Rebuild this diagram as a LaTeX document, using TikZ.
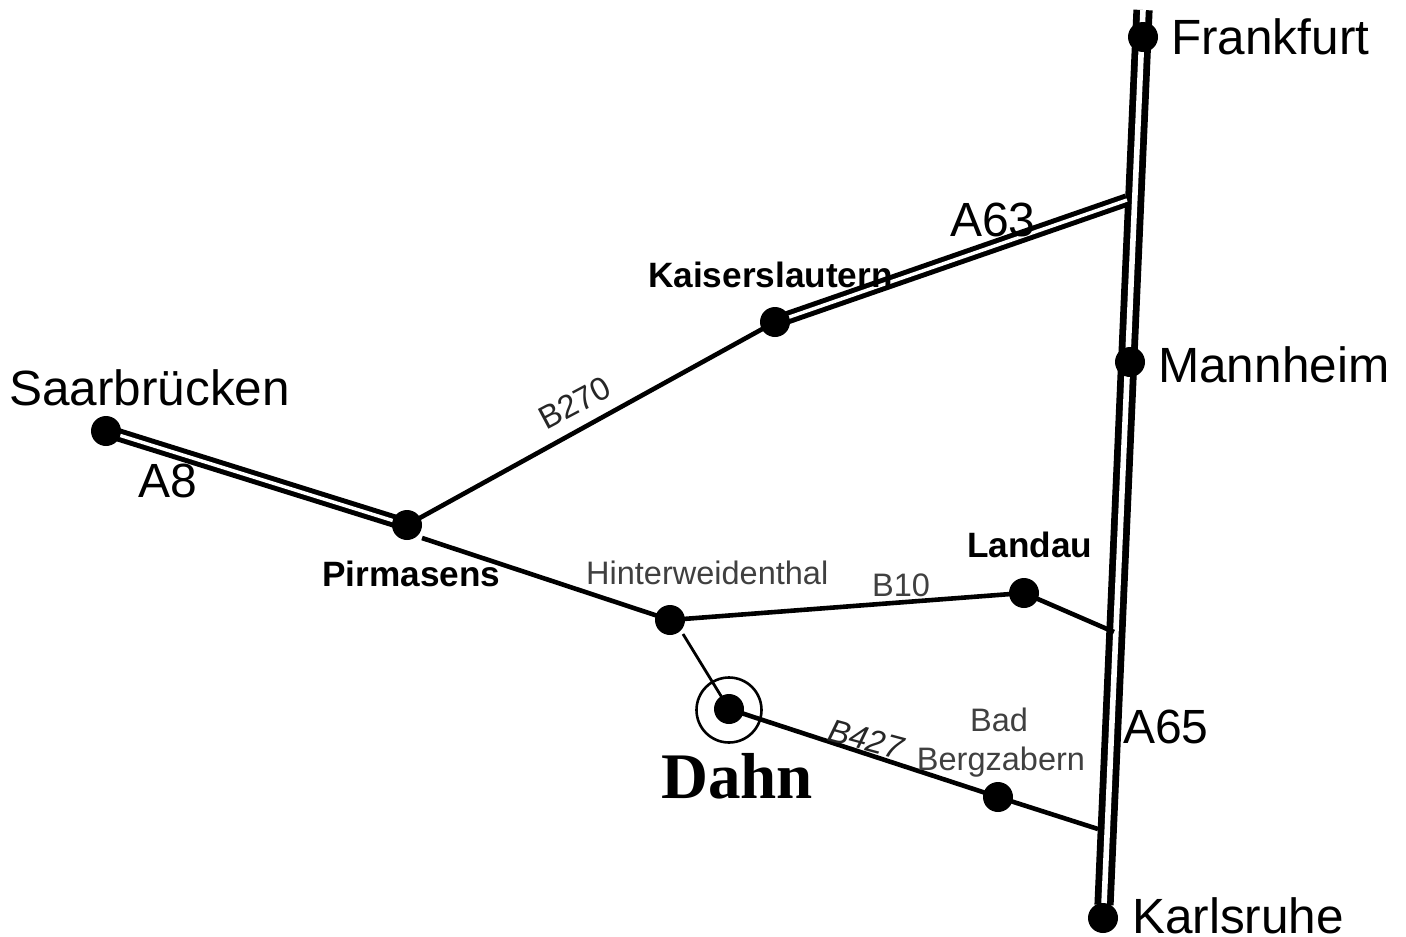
\documentclass[tikz,border=0pt]{standalone}
\usepackage{fontspec}
\setmainfont{Liberation Sans}
\newfontfamily\serifbold{Liberation Serif}
\definecolor{labelgrey}{gray}{0.25}
\tikzset{
  dot/.style={circle,fill=black,draw=none,inner sep=0pt,minimum size=30pt},
  motorway/.style={draw=black,double=white,line width=6.8pt,double distance=5.6pt},
  motorwaythin/.style={draw=black,double=white,line width=5pt,double distance=3.4pt},
  road/.style={draw=black,line width=4.6pt},
  lane/.style={draw=black,line width=2.8pt},
  city/.style={inner sep=0pt,font=\fontsize{49.5}{49.5}\selectfont},
  motor/.style={inner sep=0pt,font=\fontsize{48}{48}\selectfont},
  town/.style={inner sep=0pt,font=\fontsize{35.2}{35.2}\selectfont\bfseries},
  small/.style={inner sep=0pt,text=labelgrey,font=\fontsize{32.5}{39}\selectfont},
  roadno/.style={inner sep=0pt,text=black!85,font=\fontsize{32.5}{39}\selectfont},
}
\begin{document}
\begin{tikzpicture}[x=1pt,y=-1pt]
\useasboundingbox (0,0) rectangle (1406,937);
\fill[white] (0,0) rectangle (1406,937);
% junction coordinates
\coordinate (top) at (1143,10);
\coordinate (bottom) at (1104,905);
\coordinate (a63end) at (1127,200);
\coordinate (landauj) at (1114,632);
\coordinate (bergj) at (1098,829);
\coordinate (pirmout) at (422,538);
\coordinate (hintout) at (683,634);
% places (fixed positions, drawn over the roads below)
\coordinate (pfrank) at (1143,37);
\coordinate (pmann) at (1130,362);
\coordinate (pkarl) at (1103,918);
\coordinate (pkais) at (775,322);
\coordinate (psaar) at (106,431);
\coordinate (ppirm) at (407,525);
\coordinate (phint) at (670,620);
\coordinate (pland) at (1024,593);
\coordinate (pberg) at (998,797);
\coordinate (pdahn) at (729,709);
% roads
\draw[motorway] (top) -- (bottom);
\draw[motorwaythin] (a63end) -- (pkais);
\draw[motorwaythin] (psaar) -- (ppirm);
\draw[road] (ppirm) -- (pkais);
\draw[road] (pirmout) -- (phint);
\draw[road] (phint) -- (pland);
\draw[road] (pland) -- (landauj);
\draw[lane] (hintout) -- (pdahn);
\draw[road] (pdahn) -- (pberg);
\draw[road] (pberg) -- (bergj);
\node[circle,draw=black,line width=2.6pt,inner sep=0pt,minimum size=65pt] (ring) at (729,710) {};
\node[dot] (frankfurt) at (pfrank) {};
\node[dot] (mannheim) at (pmann) {};
\node[dot] (karlsruhe) at (pkarl) {};
\node[dot] (kaisers) at (pkais) {};
\node[dot] (saar) at (psaar) {};
\node[dot] (pirm) at (ppirm) {};
\node[dot] (hint) at (phint) {};
\node[dot] (landau) at (pland) {};
\node[dot] (berg) at (pberg) {};
\node[dot] (dahn) at (pdahn) {};
% labels
\node[city,anchor=base west] (lfrank) at (1171,54) {Frankfurt};
\node[city,anchor=base west] (lmann) at (1158,382) {Mannheim};
\node[city,anchor=base west] (lkarl) at (1132,933) {Karlsruhe};
\node[city,anchor=base west] (lsaar) at (9,405) {Saarbrücken};
\node[motor,anchor=base west] (la63) at (950,236) {A63};
\node[motor,anchor=base west] (la8) at (138,497) {A8};
\node[motor,anchor=base west] (la65) at (1123,743) {A65};
\node[town,anchor=base west] (lkais) at (648,287) {Kaiserslautern};
\node[town,anchor=base west] (lpirm) at (322,586) {Pirmasens};
\node[town,anchor=base west] (lland) at (967,557) {Landau};
\node[small,anchor=base west] (lhint) at (586,584) {Hinterweidenthal};
\node[small,anchor=base west] (lb10) at (872,596) {B10};
\node[roadno,anchor=center,rotate=28] (lb270) at (575,403) {B270};
\node[roadno,anchor=center,rotate=-15] (lb427) at (866,739) {\itshape B427};
\node[small,anchor=base] (lbad) at (999,731) {Bad};
\node[small,anchor=base] (lberg) at (1001,770) {Bergzabern};
\node[inner sep=0pt,anchor=base west,font=\serifbold\bfseries\fontsize{65}{65}\selectfont] (ldahn) at (661,798) {Dahn};
\end{tikzpicture}
\end{document}
